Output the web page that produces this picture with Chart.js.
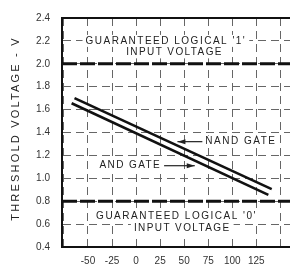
<!DOCTYPE html>
<html>
<head>
<meta charset="utf-8">
<script src="https://cdn.jsdelivr.net/npm/chart.js@4"></script>
<style>
  html, body { margin: 0; padding: 0; background: #fff; }
  #wrap { width: 290px; height: 270px; }
</style>
</head>
<body>
<div id="wrap"><canvas id="chart" width="290" height="270"></canvas></div>
<script>
// Threshold voltage vs temperature

const xMin = -77;
const xMax = 160;
const xTicks = [-75, -50, -25, 0, 25, 50, 75, 100, 125, 150];
const xLabeled = [-50, -25, 0, 25, 50, 75, 100, 125];
const yTicks = [0.4, 0.6, 0.8, 1.0, 1.2, 1.4, 1.6, 1.8, 2.0, 2.2, 2.4];

const nandTemp = [-64, 141];
const nandVolts = [1.70, 0.905];
const andTemp = [-67, 137.5];
const andVolts = [1.655, 0.855];

const levelTemp = [xMin, xMax];
const logic1Volts = [2.0, 2.0];
const logic0Volts = [0.8, 0.8];

const FONT = '"Liberation Sans", Arial, sans-serif';
const INK = '#222';

function toPoints(xs, ys) {
  return xs.map((x, i) => ({ x: x, y: ys[i] }));
}

// Helper: text with letter spacing and white backing
function spacedText(ctx, text, x, y, align, spacing, size, backing) {
  ctx.save();
  ctx.font = size + 'px ' + FONT;
  ctx.letterSpacing = spacing + 'px';
  ctx.textBaseline = 'middle';
  ctx.textAlign = 'left';
  const w = ctx.measureText(text).width;
  let left = x;
  if (align === 'center') left = x - w / 2;
  if (align === 'right') left = x - w;
  if (backing) {
    ctx.fillStyle = '#fff';
    ctx.fillRect(left - 3, y - size / 2 - 1, w + 6, size + 2);
  }
  ctx.fillStyle = INK;
  ctx.fillText(text, left, y);
  ctx.restore();
  return { left: left, right: left + w };
}

function arrow(ctx, x1, y1, x2, y2) {
  // head at (x2, y2)
  ctx.save();
  ctx.strokeStyle = INK;
  ctx.fillStyle = INK;
  ctx.lineWidth = 1.2;
  ctx.beginPath();
  ctx.moveTo(x1, y1);
  ctx.lineTo(x2, y2);
  ctx.stroke();
  const dir = Math.sign(x2 - x1);
  ctx.beginPath();
  ctx.moveTo(x2, y2);
  ctx.lineTo(x2 - dir * 8, y2 - 2.5);
  ctx.lineTo(x2 - dir * 8, y2 + 2.5);
  ctx.closePath();
  ctx.fill();
  ctx.restore();
}

// Frame, axis title and annotations
const decorations = {
  id: 'decorations',
  beforeDatasetsDraw(chart) {
    const { ctx, chartArea: a, scales } = chart;
    const X = v => scales.x.getPixelForValue(v);
    const Y = v => scales.y.getPixelForValue(v);

    // text boxes sit on the grid, blanking it
    spacedText(ctx, "GUARANTEED LOGICAL '1'", X(31), Y(2.2), 'center', 1.5, 10, true);
    spacedText(ctx, 'INPUT VOLTAGE', X(40), Y(2.1), 'center', 1.4, 10, true);
    spacedText(ctx, "GUARANTEED LOGICAL '0'", X(42), Y(0.67), 'center', 1.5, 10, true);
    spacedText(ctx, 'INPUT VOLTAGE', X(48), Y(0.56), 'center', 1.4, 10, true);

    const nand = spacedText(ctx, 'NAND GATE', X(72), Y(1.32), 'left', 1.5, 10, true);
    arrow(ctx, nand.left - 3, Y(1.32), X(43), Y(1.32));
    const and = spacedText(ctx, 'AND GATE', X(-38), Y(1.11), 'left', 1.4, 10, true);
    arrow(ctx, and.right + 3, Y(1.11), X(61), Y(1.11));

    // top edge of frame
    ctx.save();
    ctx.strokeStyle = '#111';
    ctx.lineWidth = 2;
    ctx.beginPath();
    ctx.moveTo(a.left, a.top);
    ctx.lineTo(a.right, a.top);
    ctx.stroke();
    ctx.restore();

    // axis title
    ctx.save();
    ctx.translate(16, (a.top + a.bottom) / 2 - 4);
    ctx.rotate(-Math.PI / 2);
    spacedText(ctx, 'THRESHOLD VOLTAGE - V', 0, 0, 'center', 2.2, 11, false);
    ctx.restore();
  }
};

const ctx = document.getElementById('chart').getContext('2d');
new Chart(ctx, {
  type: 'scatter',
  data: {
    datasets: [
      { label: 'NAND GATE', data: toPoints(nandTemp, nandVolts), showLine: true,
        borderColor: '#111', borderWidth: 2.6, pointRadius: 0 },
      { label: 'AND GATE', data: toPoints(andTemp, andVolts), showLine: true,
        borderColor: '#111', borderWidth: 2.6, pointRadius: 0 },
      { label: 'Logical 1', data: toPoints(levelTemp, logic1Volts), showLine: true,
        borderColor: '#111', borderWidth: 3, borderDash: [15, 3], pointRadius: 0 },
      { label: 'Logical 0', data: toPoints(levelTemp, logic0Volts), showLine: true,
        borderColor: '#111', borderWidth: 3, borderDash: [15, 3], pointRadius: 0 }
    ]
  },
  options: {
    responsive: false,
    animation: false,
    layout: { padding: { top: 13, right: 0, left: 0, bottom: 0 } },
    plugins: {
      legend: { display: false },
      tooltip: { enabled: false }
    },
    scales: {
      x: {
        type: 'linear',
        min: xMin,
        max: xMax,
        afterBuildTicks: scale => { scale.ticks = xTicks.map(v => ({ value: v })); },
        afterFit: scale => { scale.height = 23; },
        ticks: {
          padding: 8,
          color: '#333',
          font: { family: FONT, size: 10 },
          callback: v => xLabeled.includes(v) ? String(v) : ''
        },
        grid: { color: '#666', lineWidth: 1, drawTicks: false },
        border: { display: true, color: '#111', width: 2, dash: [8, 5] }
      },
      y: {
        type: 'linear',
        min: 0.4,
        max: 2.4,
        afterBuildTicks: scale => { scale.ticks = yTicks.map(v => ({ value: v })); },
        afterFit: scale => { scale.width = 62; },
        ticks: {
          padding: 12,
          color: '#333',
          font: { family: FONT, size: 10 },
          callback: v => Number(v).toFixed(1)
        },
        grid: { color: '#666', lineWidth: 1, drawTicks: false },
        border: { display: true, color: '#111', width: 2, dash: [8, 5] }
      }
    }
  },
  plugins: [decorations]
});
</script>
</body>
</html>
